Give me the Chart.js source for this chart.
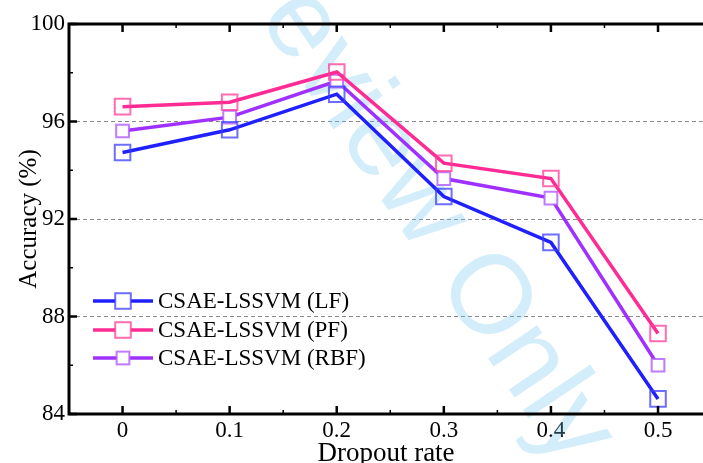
<!DOCTYPE html>
<html>
<head>
<meta charset="utf-8">
<script src="https://cdn.jsdelivr.net/npm/chart.js@4.4.1/dist/chart.umd.min.js"></script>
<style>
  html, body { margin: 0; padding: 0; background: #fff; }
  #wrap { width: 703px; height: 463px; }
</style>
</head>
<body>
<div id="wrap"><canvas id="lineChart" width="703" height="463"></canvas></div>
<script>
// dropout rates on the x axis
const dropoutRates = [0, 0.1, 0.2, 0.3, 0.4, 0.5];
// accuracy (%) per kernel
const accLF = [94.73, 95.66, 97.12, 92.92, 91.04, 84.62];
const accPF = [96.61, 96.79, 98.03, 94.29, 93.66, 87.30];
const accRBF = [95.61, 96.18, 97.66, 93.66, 92.86, 86.0];
const seriesNames = ["CSAE-LSSVM (LF)", "CSAE-LSSVM (PF)", "CSAE-LSSVM (RBF)"];
const yTickValues = [84, 88, 92, 96, 100];
const yMinorValues = [86, 90, 94, 98];
const xMinorValues = [0.05, 0.15, 0.25, 0.35, 0.45];

const serif = "'Liberation Serif', 'Times New Roman', serif";

function toPoints(vals) {
  return vals.map((v, i) => ({ x: dropoutRates[i], y: v }));
}

// axes frame + inward ticks, like the original plot
const framePlugin = {
  id: "frame",
  afterDatasetsDraw(chart) {
    const { ctx, chartArea, scales } = chart;
    const { left, right, top, bottom } = chartArea;
    ctx.save();
    ctx.strokeStyle = "#000";
    ctx.lineWidth = 3;
    ctx.beginPath();
    ctx.moveTo(left, top);
    ctx.lineTo(left, bottom);
    ctx.moveTo(left - 1.5, top);
    ctx.lineTo(right, top);
    ctx.moveTo(left - 1.5, bottom);
    ctx.lineTo(right, bottom);
    ctx.stroke();

    ctx.lineWidth = 2.5;
    ctx.beginPath();
    yTickValues.forEach(v => {
      const y = scales.y.getPixelForValue(v);
      ctx.moveTo(left, y);
      ctx.lineTo(left + 8, y);
    });
    dropoutRates.forEach(v => {
      const x = scales.x.getPixelForValue(v);
      ctx.moveTo(x, bottom);
      ctx.lineTo(x, bottom - 8);
      ctx.moveTo(x, top);
      ctx.lineTo(x, top + 8);
    });
    ctx.stroke();
    ctx.lineWidth = 1.5;
    ctx.beginPath();
    yMinorValues.forEach(v => {
      const y = scales.y.getPixelForValue(v);
      ctx.moveTo(left, y);
      ctx.lineTo(left + 4, y);
    });
    xMinorValues.forEach(v => {
      const x = scales.x.getPixelForValue(v);
      ctx.moveTo(x, bottom);
      ctx.lineTo(x, bottom - 4);
      ctx.moveTo(x, top);
      ctx.lineTo(x, top + 4);
    });
    ctx.stroke();
    ctx.restore();
  }
};

// legend drawn by hand: line + marker + text
const legendPlugin = {
  id: "handLegend",
  afterDraw(chart) {
    const { ctx } = chart;
    const rows = [301, 330, 358];
    ctx.save();
    chart.data.datasets.forEach((ds, i) => {
      const y = rows[i];
      ctx.strokeStyle = ds.borderColor;
      ctx.lineWidth = 3.5;
      ctx.beginPath();
      ctx.moveTo(93, y);
      ctx.lineTo(153, y);
      ctx.stroke();
      const half = ds.pointRadius * Math.SQRT1_2;
      ctx.fillStyle = "#fff";
      ctx.fillRect(123 - half, y - half, half * 2, half * 2);
      ctx.strokeStyle = ds.pointBorderColor;
      ctx.lineWidth = ds.pointBorderWidth;
      ctx.strokeRect(123 - half, y - half, half * 2, half * 2);
      ctx.fillStyle = "#000";
      ctx.font = "23px " + serif;
      ctx.textBaseline = "middle";
      ctx.fillText(ds.label, 158, y + 1);
    });
    ctx.restore();
  }
};

// the light "Preview Only" stamp behind the plot
const stampPlugin = {
  id: "stamp",
  beforeDatasetsDraw(chart) {
    const { ctx } = chart;
    ctx.save();
    ctx.translate(405, 180);
    ctx.rotate(56 * Math.PI / 180);
    ctx.font = "112px 'Liberation Sans', Arial, sans-serif";
    ctx.fillStyle = "rgba(110, 200, 240, 0.3)";
    ctx.textAlign = "center";
    ctx.textBaseline = "middle";
    ctx.fillText("Preview Only", 0, 0);
    ctx.restore();
  }
};

const ctx = document.getElementById("lineChart").getContext("2d");
new Chart(ctx, {
  type: "line",
  data: {
    datasets: [
      {
        label: seriesNames[0],
        data: toPoints(accLF),
        borderColor: "#2020ff",
        borderWidth: 3.5,
        pointStyle: "rect",
        pointRadius: 11,
        pointBorderColor: "rgba(60, 60, 255, 0.75)",
        pointBackgroundColor: "rgba(255,255,255,0)",
        pointBorderWidth: 2,
        tension: 0,
      },
      {
        label: seriesNames[1],
        data: toPoints(accPF),
        borderColor: "#ff2b95",
        borderWidth: 3.5,
        pointStyle: "rect",
        pointRadius: 11,
        pointBorderColor: "rgba(255, 60, 150, 0.75)",
        pointBackgroundColor: "rgba(255,255,255,0)",
        pointBorderWidth: 2,
        tension: 0,
      },
      {
        label: seriesNames[2],
        data: toPoints(accRBF),
        borderColor: "#a030ff",
        borderWidth: 3.5,
        pointStyle: "rect",
        pointRadius: 9,
        pointBorderColor: "rgba(175, 90, 255, 0.8)",
        pointBackgroundColor: "#fff",
        pointBorderWidth: 2,
        tension: 0,
      },
    ],
  },
  options: {
    responsive: false,
    animation: false,
    clip: false,
    layout: { autoPadding: false, padding: { top: 24, right: 0, left: 0, bottom: 0 } },
    plugins: {
      legend: { display: false },
      tooltip: { enabled: false },
    },
    scales: {
      x: {
        type: "linear",
        min: -0.05,
        max: 0.542,
        afterBuildTicks: (scale) => { scale.ticks = dropoutRates.map(v => ({ value: v })); },
        afterFit: (scale) => { scale.height = 49; scale.paddingRight = 0; scale.paddingLeft = 0; },
        grid: { display: false, drawTicks: false },
        border: { display: false },
        ticks: {
          color: "#000",
          padding: 3,
          font: { family: serif, size: 23 },
          callback: (v) => String(Math.round(v * 10) / 10),
        },
        title: {
          display: true,
          text: "Dropout rate",
          color: "#000",
          font: { family: serif, size: 27 },
          padding: { top: 0, bottom: -7 },
        },
      },
      y: {
        min: 84,
        max: 100,
        afterBuildTicks: (scale) => { scale.ticks = yTickValues.map(v => ({ value: v })); },
        afterFit: (scale) => { scale.width = 69; scale.paddingTop = 0; scale.paddingBottom = 0; },
        grid: {
          drawTicks: false,
          lineWidth: 1,
          color: (c) => (c.tick && (c.tick.value === 84 || c.tick.value === 100)) ? "rgba(0,0,0,0)" : "#8a8a8a",
        },
        border: { display: false, dash: [4, 3] },
        ticks: {
          color: "#000",
          padding: 4,
          font: { family: serif, size: 23 },
        },
        title: {
          display: true,
          text: "Accuracy (%)",
          color: "#000",
          font: { family: serif, size: 25 },
          padding: { top: 14, bottom: 0 },
        },
      },
    },
  },
  plugins: [stampPlugin, framePlugin, legendPlugin],
});
</script>
</body>
</html>
